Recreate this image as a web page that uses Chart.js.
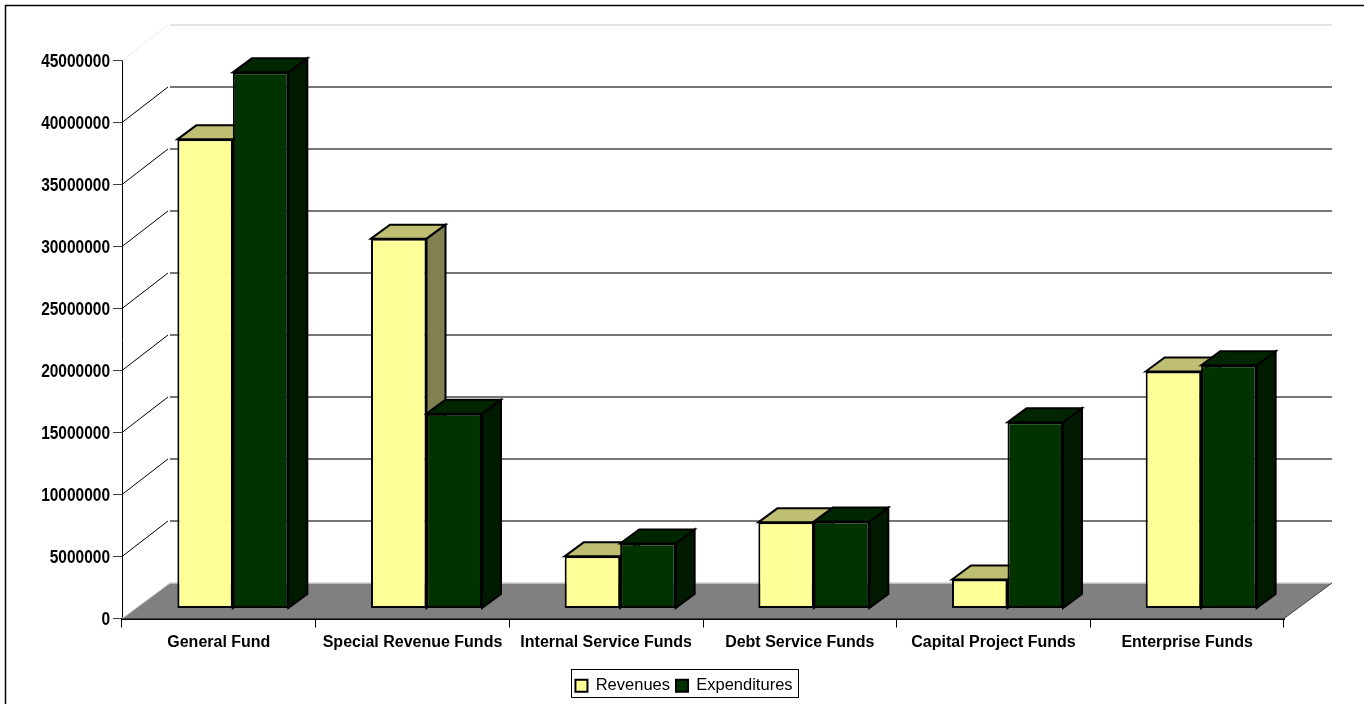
<!DOCTYPE html>
<html>
<head>
<meta charset="utf-8">
<title>Revenues and Expenditures</title>
<script src="https://cdn.jsdelivr.net/npm/chart.js@4"></script>
<style>
  html, body { margin: 0; padding: 0; background: #fff; overflow: hidden; }
  canvas { display: block; }
</style>
</head>
<body>
<canvas id="chart" width="1364" height="704"></canvas>
<script>
const categories = ['General Fund', 'Special Revenue Funds', 'Internal Service Funds',
  'Debt Service Funds', 'Capital Project Funds', 'Enterprise Funds'];
const revenues = [37800000, 29800000, 4200000, 6940000, 2340000, 19100000];
const expenditures = [43200000, 15700000, 5240000, 7000000, 15000000, 19600000];

// fake 3d: how far the back wall and the bars sit from the front plane
const WALL_DX = 48, WALL_DY = -35.5;
const BAR_DX = 19, BAR_DY = -14;
const BAR_SHIFT_X = 14, BAR_SHIFT_Y = -10;
const Y_LABEL_SQUEEZE = 0.885;
const LEGEND_SHIFT = 36;

const SANS = '"Liberation Sans", Arial, sans-serif';

function poly(ctx, pts, fill, stroke, lw) {
  ctx.beginPath();
  pts.forEach((p, i) => i ? ctx.lineTo(p[0], p[1]) : ctx.moveTo(p[0], p[1]));
  ctx.closePath();
  if (fill) { ctx.fillStyle = fill; ctx.fill(); }
  if (stroke) { ctx.strokeStyle = stroke; ctx.lineWidth = lw; ctx.stroke(); }
}

function line(ctx, x1, y1, x2, y2, color, lw) {
  ctx.beginPath();
  ctx.moveTo(x1, y1);
  ctx.lineTo(x2, y2);
  ctx.strokeStyle = color;
  ctx.lineWidth = lw;
  ctx.stroke();
}

const wall3d = {
  id: 'wall3d',
  afterLayout(chart) {
    // y labels are narrower than the font, squeeze them around their right edge
    const y = chart.scales.y, drawLabels = y.drawLabels;
    y.drawLabels = function (area) {
      const ctx = chart.ctx, x = y.right - 4;
      ctx.save();
      ctx.translate(x, 0);
      ctx.scale(Y_LABEL_SQUEEZE, 1);
      ctx.translate(-x, 0);
      drawLabels.call(y, area);
      ctx.restore();
    };
    chart.legend.left += LEGEND_SHIFT;
    chart.legend.right += LEGEND_SHIFT;
  },
  beforeDatasetsDraw(chart) {
    const ctx = chart.ctx, a = chart.chartArea, y = chart.scales.y;
    ctx.save();
    // floor
    const base = y.getPixelForValue(0);
    poly(ctx, [[a.left, base], [a.left + WALL_DX, base + WALL_DY],
      [a.right + WALL_DX, base + WALL_DY], [a.right, base]], '#808080');
    line(ctx, a.left + WALL_DX, base + WALL_DY, a.right + WALL_DX, base + WALL_DY, '#d0d0d0', 1.5);
    line(ctx, a.left, base, a.left + WALL_DX, base + WALL_DY, '#d8d8d8', 1);
    line(ctx, a.right, base, a.right + WALL_DX, base + WALL_DY, '#404040', 1);
    // wall lines
    y.ticks.forEach(t => {
      if (t.value === 0) return;
      const py = Math.round(y.getPixelForValue(t.value)) + 0.5;
      const top = t.value === y.max;
      if (top) ctx.setLineDash([1, 1]);
      line(ctx, a.left, py, a.left + WALL_DX - 2, py + WALL_DY, top ? '#d8d8d8' : '#000', 1);
      ctx.setLineDash([]);
      line(ctx, a.left + WALL_DX, py + WALL_DY, a.right + WALL_DX, py + WALL_DY, top ? '#e4e4e4' : '#777', 2);
    });
    // boxes, first dataset first so the second one covers its side face
    chart.getSortedVisibleDatasetMetas().forEach(meta => {
      const ds = chart.data.datasets[meta.index];
      ctx.save();
      ctx.translate(BAR_SHIFT_X, BAR_SHIFT_Y);
      ctx.lineJoin = 'miter';
      meta.data.forEach(bar => {
        const l = bar.x - bar.width / 2, r = bar.x + bar.width / 2;
        poly(ctx, [[r, bar.y], [r + BAR_DX, bar.y + BAR_DY], [r + BAR_DX, bar.base + BAR_DY], [r, bar.base]],
          ds.sideColor, '#000', 2);
        poly(ctx, [[l, bar.y], [l + BAR_DX, bar.y + BAR_DY], [r + BAR_DX, bar.y + BAR_DY], [r, bar.y]],
          ds.topColor, '#000', 2);
      });
      meta.controller.draw();
      ctx.restore();
    });
    ctx.restore();
  },
  // the boxes above are already drawn
  beforeDatasetDraw() {
    return false;
  },
  afterDraw(chart) {
    const ctx = chart.ctx;
    ctx.save();
    // legend box and the outer frame
    ctx.strokeStyle = '#000';
    ctx.lineWidth = 1;
    ctx.strokeRect(571.5, 669.5, 227, 28);
    line(ctx, 5.5, 5, 5.5, 704, '#000', 1.5);
    line(ctx, 5, 5.5, 1364, 5.5, '#000', 1.5);
    ctx.restore();
  }
};

new Chart(document.getElementById('chart'), {
  type: 'bar',
  plugins: [wall3d],
  data: {
    labels: categories,
    datasets: [
      { label: 'Revenues', data: revenues, backgroundColor: '#FFFF99', borderColor: '#000', borderWidth: 2,
        borderSkipped: false, sideColor: '#808050', topColor: '#BFBF73', clip: false },
      { label: 'Expenditures', data: expenditures, backgroundColor: '#003300', borderColor: '#000', borderWidth: 2,
        borderSkipped: false, sideColor: '#001A00', topColor: '#002600', clip: false }
    ]
  },
  options: {
    responsive: false,
    animation: false,
    devicePixelRatio: 1,
    layout: { padding: { left: 12, right: 80, top: 60, bottom: 0 } },
    datasets: { bar: { categoryPercentage: 0.573, barPercentage: 1 } },
    plugins: {
      tooltip: { enabled: false },
      legend: {
        position: 'bottom',
        labels: {
          boxWidth: 12, boxHeight: 12, padding: 6, color: '#000',
          font: { family: SANS, size: 16.5 }
        }
      }
    },
    scales: {
      x: {
        grid: { drawOnChartArea: false, color: '#000', tickLength: 9, lineWidth: 1 },
        border: { color: '#000', width: 2 },
        ticks: { color: '#000', maxRotation: 0, autoSkip: false, padding: 5,
          font: { family: SANS, size: 16, weight: 'bold' } },
        afterFit: s => { s.height = 53; }
      },
      y: {
        min: 0, max: 45000000,
        grid: { drawOnChartArea: false, color: '#404040', tickLength: 9, lineWidth: 1 },
        border: { color: '#000', width: 1 },
        ticks: { stepSize: 5000000, color: '#000', padding: 4, labelOffset: 2,
          font: { family: SANS, size: 17.5, weight: 'bold' },
          callback: v => String(v) },
        afterFit: s => { s.width = 110; }
      }
    }
  }
});
</script>
</body>
</html>
